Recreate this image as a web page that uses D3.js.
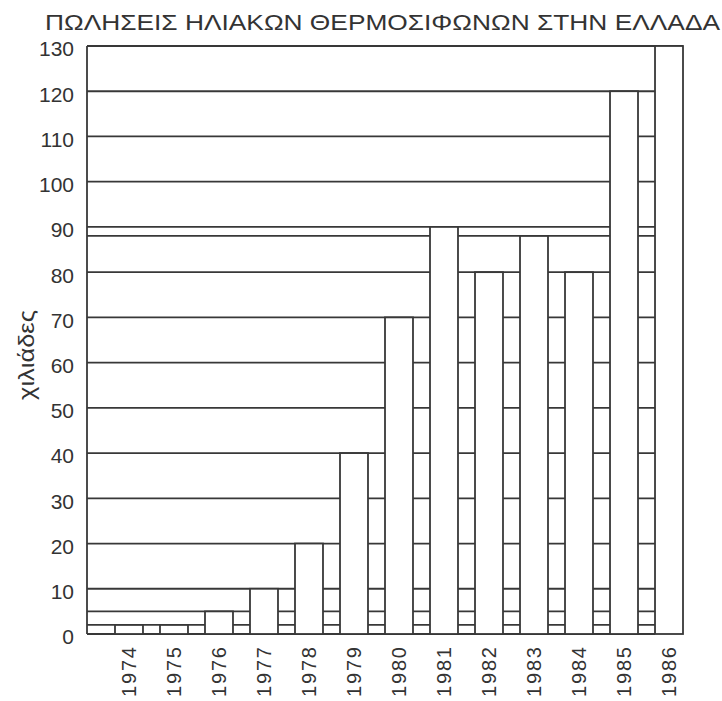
<!DOCTYPE html>
<meta charset="utf-8">
<style>
body { margin: 0; background: #fff; }
text { font-family: "Liberation Sans", Arial, sans-serif; fill: #333; }
</style>
<body>
<div id="chart"></div>
<script src="https://d3js.org/d3.v7.min.js"></script>
<script>

// data (thousands of units sold)
var years = ['1974','1975','1976','1977','1978','1979','1980','1981','1982','1983','1984','1985','1986'];
var sales = [2, 2, 5, 10, 20, 40, 70, 90, 80, 88, 80, 120, 130];
var yTicks = [0,10,20,30,40,50,60,70,80,90,100,110,120,130];

var title = 'ΠΩΛΗΣΕΙΣ ΗΛΙΑΚΩΝ ΘΕΡΜΟΣΙΦΩΝΩΝ ΣΤΗΝ ΕΛΛΑΔΑ';
var yLabel = 'χιλιάδες';

var width = 722, height = 701;
// note: "top" is taken by window.top, so use a margin object
var plot = {left: 87, right: 683, top: 46, bottom: 634};
var ink = '#383838';

var svg = d3.select('#chart').append('svg')
    .attr('width', width)
    .attr('height', height);

var x = d3.scaleBand()
    .domain(years)
    .range([plot.left, plot.right])
    .paddingInner(0.378)
    .paddingOuter(0.311)
    .align(1);

var y = d3.scaleLinear()
    .domain([0, 130])
    .range([plot.bottom, plot.top]);

// horizontal lines: every tick plus every bar level, running behind the bars
var levels = Array.from(new Set(yTicks.concat(sales))).sort(d3.ascending);
var lastX = x(years[years.length - 1]);

svg.append('g').selectAll('line')
    .data(levels)
  .enter().append('line')
    .attr('x1', plot.left)
    .attr('x2', function(d){ return d === 130 ? plot.right : lastX; })
    .attr('y1', function(d){ return y(d); })
    .attr('y2', function(d){ return y(d); })
    .style('stroke', ink)
    .style('stroke-width', 1.8);

// bars
svg.append('g').selectAll('rect')
    .data(sales)
  .enter().append('rect')
    .attr('x', function(d, i){ return x(years[i]); })
    .attr('y', function(d){ return y(d); })
    .attr('width', x.bandwidth())
    .attr('height', function(d){ return y(0) - y(d); })
    .style('fill', '#fff')
    .style('stroke', ink)
    .style('stroke-width', 1.8);

// left axis line
svg.append('line')
    .attr('x1', plot.left).attr('x2', plot.left)
    .attr('y1', y(0)).attr('y2', y(130))
    .style('stroke', ink)
    .style('stroke-width', 1.8);

// y tick labels
svg.append('g').selectAll('text')
    .data(yTicks)
  .enter().append('text')
    .attr('x', 74)
    .attr('y', function(d){ return y(d) + 3; })
    .attr('dy', '0.35em')
    .attr('text-anchor', 'end')
    .style('font-size', '21px')
    .text(function(d){ return d; });

// year labels, rotated
svg.append('g').selectAll('text')
    .data(years)
  .enter().append('text')
    .attr('transform', function(d){
        return 'translate(' + (x(d) + x.bandwidth() / 2 + 7) + ',647) rotate(-90)';
    })
    .attr('text-anchor', 'end')
    .attr('textLength', 50)
    .attr('lengthAdjust', 'spacing')
    .style('font-size', '20px')
    .text(function(d){ return d; });

// y axis title
svg.append('text')
    .attr('transform', 'translate(34,355) rotate(-90)')
    .attr('text-anchor', 'middle')
    .attr('textLength', 90)
    .attr('lengthAdjust', 'spacingAndGlyphs')
    .style('font-size', '22px')
    .text(yLabel);

// chart title
svg.append('text')
    .attr('x', 45)
    .attr('y', 30)
    .attr('textLength', 675)
    .attr('lengthAdjust', 'spacingAndGlyphs')
    .style('font-size', '22px')
    .text(title);

</script>
